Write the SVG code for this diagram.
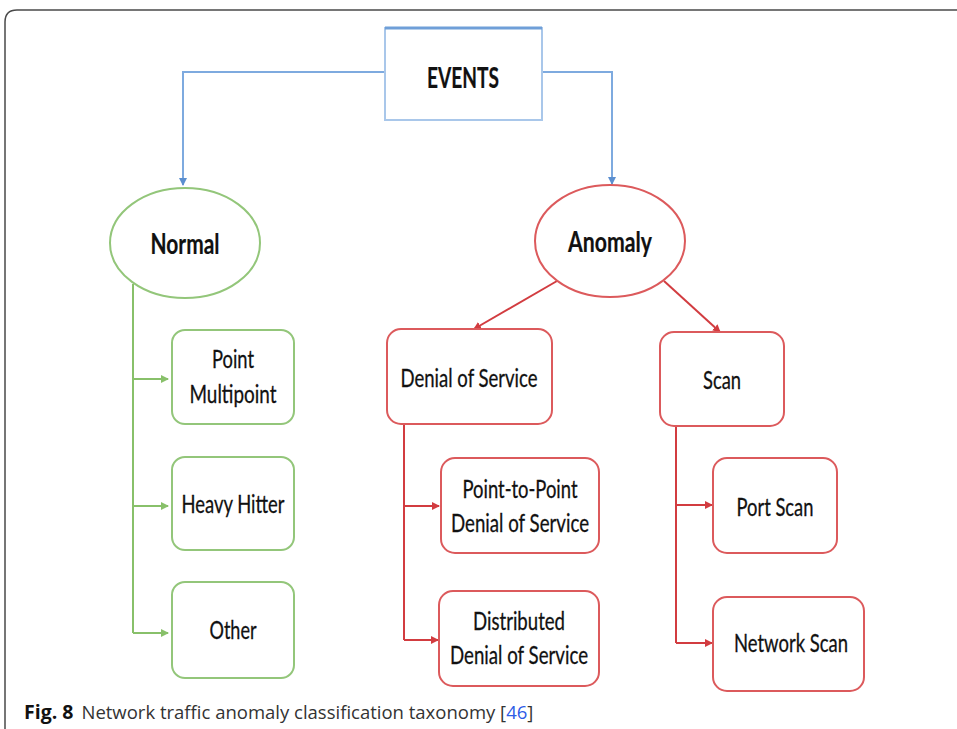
<svg xmlns="http://www.w3.org/2000/svg" width="957" height="729" viewBox="0 0 957 729">
  <style>
    .lbl { font-family: Lato, "Liberation Sans", sans-serif; font-size: 25px; fill: #111; stroke: #111; stroke-width: 0.3; text-anchor: middle; }
    .bold { font-weight: bold; font-size: 29px; stroke-width: 0.2; }
    .green { fill: #fff; stroke: #93c67a; stroke-width: 2; }
    .red { fill: #fff; stroke: #dc5a5c; stroke-width: 2; }
    .gline { fill: none; stroke: #88c06a; stroke-width: 2; }
    .rline { fill: none; stroke: #d23c40; stroke-width: 2; }
    .bline { fill: none; stroke: #7eaadf; stroke-width: 2; }
    .cap { font-family: "Open Sans", "Noto Sans", sans-serif; font-size: 18.5px; fill: #333; }
  </style>
  <defs>
    <marker id="ag" markerWidth="8" markerHeight="8" refX="7" refY="4" orient="auto" markerUnits="userSpaceOnUse">
      <path d="M0,0 L8,4 L0,8 Z" fill="#88c06a"/>
    </marker>
    <marker id="ar" markerWidth="8" markerHeight="8" refX="7" refY="4" orient="auto" markerUnits="userSpaceOnUse">
      <path d="M0,0 L8,4 L0,8 Z" fill="#d23c40"/>
    </marker>
    <marker id="ab" markerWidth="8" markerHeight="8" refX="7" refY="4" orient="auto" markerUnits="userSpaceOnUse">
      <path d="M0,0 L8,4 L0,8 Z" fill="#5b8fd0"/>
    </marker>
  </defs>

  <rect width="957" height="729" fill="#fff"/>
  <!-- figure frame -->
  <path d="M5,729 V22 Q5,10 17,10 H957" fill="none" stroke="#4a4a4a" stroke-width="1.5"/>

  <g id="connectors">
    <path class="bline" d="M385,72 H183 V185" marker-end="url(#ab)"/>
    <path class="bline" d="M542,72 H612 V184" marker-end="url(#ab)"/>
    <path class="gline" d="M133,284 V633"/>
    <path class="gline" d="M133,379 H168" marker-end="url(#ag)"/>
    <path class="gline" d="M133,506 H168" marker-end="url(#ag)"/>
    <path class="gline" d="M133,633 H168" marker-end="url(#ag)"/>
    <path class="rline" d="M557,281 L474,329" marker-end="url(#ar)"/>
    <path class="rline" d="M664,281 L720,332" marker-end="url(#ar)"/>
    <path class="rline" d="M404,424 V640"/>
    <path class="rline" d="M404,506 H439" marker-end="url(#ar)"/>
    <path class="rline" d="M404,640 H438" marker-end="url(#ar)"/>
    <path class="rline" d="M676,426 V643"/>
    <path class="rline" d="M676,505 H712" marker-end="url(#ar)"/>
    <path class="rline" d="M676,643 H712" marker-end="url(#ar)"/>
  </g>

  <g id="events">
    <rect x="385" y="28" width="157" height="92" fill="#fff" stroke="#a9c7ea" stroke-width="2"/>
    <line x1="385" y1="28" x2="542" y2="28" stroke="#6f9fd8" stroke-width="3"/>
    <text class="lbl bold" x="463" y="88" textLength="72" lengthAdjust="spacingAndGlyphs">EVENTS</text>
  </g>

  <g id="normal">
    <ellipse class="green" cx="185" cy="243" rx="75" ry="55"/>
    <text class="lbl bold" x="185" y="254" textLength="69" lengthAdjust="spacingAndGlyphs">Normal</text>
  </g>
  <g id="point-multipoint">
    <rect class="green" x="172" y="330" width="122" height="94" rx="13"/>
    <text class="lbl" x="233" y="368" textLength="42" lengthAdjust="spacingAndGlyphs">Point</text>
    <text class="lbl" x="233" y="403" textLength="87" lengthAdjust="spacingAndGlyphs">Multipoint</text>
  </g>
  <g id="heavy-hitter">
    <rect class="green" x="172" y="457" width="122" height="93" rx="13"/>
    <text class="lbl" x="233" y="513" textLength="103" lengthAdjust="spacingAndGlyphs">Heavy Hitter</text>
  </g>
  <g id="other">
    <rect class="green" x="172" y="582" width="122" height="96" rx="13"/>
    <text class="lbl" x="233" y="639" textLength="47" lengthAdjust="spacingAndGlyphs">Other</text>
  </g>

  <g id="anomaly">
    <ellipse class="red" cx="610" cy="241" rx="75" ry="56"/>
    <text class="lbl bold" x="610" y="252" textLength="84" lengthAdjust="spacingAndGlyphs">Anomaly</text>
  </g>
  <g id="denial-of-service">
    <rect class="red" x="387" y="329" width="165" height="95" rx="14"/>
    <text class="lbl" x="469" y="387" textLength="137" lengthAdjust="spacingAndGlyphs">Denial of Service</text>
  </g>
  <g id="scan">
    <rect class="red" x="660" y="332" width="124" height="94" rx="14"/>
    <text class="lbl" x="722" y="389" textLength="38" lengthAdjust="spacingAndGlyphs">Scan</text>
  </g>
  <g id="p2p-dos">
    <rect class="red" x="441" y="458" width="158" height="95" rx="14"/>
    <text class="lbl" x="520" y="498" textLength="115" lengthAdjust="spacingAndGlyphs">Point-to-Point</text>
    <text class="lbl" x="520" y="532" textLength="138" lengthAdjust="spacingAndGlyphs">Denial of Service</text>
  </g>
  <g id="ddos">
    <rect class="red" x="439" y="591" width="160" height="95" rx="14"/>
    <text class="lbl" x="519" y="630" textLength="92" lengthAdjust="spacingAndGlyphs">Distributed</text>
    <text class="lbl" x="519" y="664" textLength="138" lengthAdjust="spacingAndGlyphs">Denial of Service</text>
  </g>
  <g id="port-scan">
    <rect class="red" x="713" y="458" width="124" height="95" rx="14"/>
    <text class="lbl" x="775" y="516" textLength="77" lengthAdjust="spacingAndGlyphs">Port Scan</text>
  </g>
  <g id="network-scan">
    <rect class="red" x="713" y="597" width="151" height="94" rx="14"/>
    <text class="lbl" x="791" y="652" textLength="114" lengthAdjust="spacingAndGlyphs">Network Scan</text>
  </g>

  <text class="cap" x="24" y="719"><tspan font-weight="bold" fill="#111" font-size="19.5px">Fig. 8</tspan><tspan dx="8">Network traffic anomaly classification taxonomy [</tspan><tspan fill="#2e5ce6">46</tspan>]</text>
</svg>
